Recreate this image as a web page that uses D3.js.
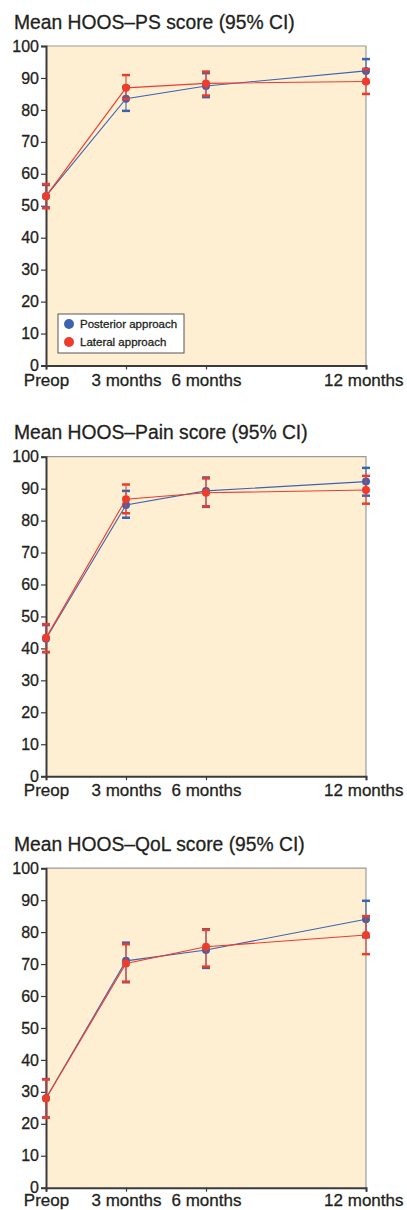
<!DOCTYPE html>
<html>
<head>
<meta charset="utf-8">
<script src="https://cdn.jsdelivr.net/npm/d3@7"></script>
<style>
  html, body { margin: 0; padding: 0; background: #ffffff; }
  svg { display: block; }
  text { font-family: "Liberation Sans", Arial, Helvetica, sans-serif; fill: #231f20; stroke: #231f20; stroke-width: 0.3px; }
</style>
</head>
<body>
<svg id="chart" width="407" height="1210"></svg>
<script>
// ---------- data ----------
const months = [0, 3, 6, 12];
const xTickLabels = ["Preop", "3 months", "6 months", "12 months"];
const yTicks = [0, 10, 20, 30, 40, 50, 60, 70, 80, 90, 100];
const seriesNames = ["Posterior approach", "Lateral approach"];
const panelTitles = ["Mean HOOS\u2013PS score (95% CI)", "Mean HOOS\u2013Pain score (95% CI)", "Mean HOOS\u2013QoL score (95% CI)"];

// HOOS-PS
const psPosteriorMean = [53.0, 83.5, 87.5, 92.2];
const psPosteriorLow  = [49.5, 79.7, 84.0, 88.6];
const psPosteriorHigh = [56.5, 87.3, 91.5, 95.9];
const psLateralMean   = [53.0, 86.9, 88.3, 88.9];
const psLateralLow    = [49.2, 83.4, 84.5, 85.0];
const psLateralHigh   = [56.8, 90.9, 92.0, 92.8];

// HOOS-Pain
const painPosteriorMean = [43.0, 84.9, 89.3, 92.2];
const painPosteriorLow  = [38.8, 80.9, 84.3, 87.8];
const painPosteriorHigh = [47.3, 89.3, 93.5, 96.5];
const painLateralMean   = [43.3, 86.7, 88.7, 89.6];
const painLateralLow    = [38.9, 82.3, 84.5, 85.3];
const painLateralHigh   = [47.6, 91.3, 93.2, 94.0];

// HOOS-QoL
const qolPosteriorMean = [28.0, 71.0, 74.4, 84.0];
const qolPosteriorLow  = [22.0, 64.3, 68.8, 78.4];
const qolPosteriorHigh = [34.0, 76.7, 80.9, 89.8];
const qolLateralMean   = [27.9, 70.2, 75.4, 79.1];
const qolLateralLow    = [21.9, 64.5, 69.2, 73.1];
const qolLateralHigh   = [33.9, 76.2, 80.7, 85.0];

const panels = [
  { title: panelTitles[0], series: [
      { mean: psPosteriorMean, low: psPosteriorLow, high: psPosteriorHigh },
      { mean: psLateralMean, low: psLateralLow, high: psLateralHigh } ], legend: true },
  { title: panelTitles[1], series: [
      { mean: painPosteriorMean, low: painPosteriorLow, high: painPosteriorHigh },
      { mean: painLateralMean, low: painLateralLow, high: painLateralHigh } ], legend: false },
  { title: panelTitles[2], series: [
      { mean: qolPosteriorMean, low: qolPosteriorLow, high: qolPosteriorHigh },
      { mean: qolLateralMean, low: qolLateralLow, high: qolLateralHigh } ], legend: false }
];

// ---------- layout ----------
const colors = ["#3d63b0", "#ee3b2b"];
const bgFill = "#feefd3";
const plotLeft = 46, plotRight = 366, plotH = 319.5;
const plotTops = [46, 456.7, 868.2];
const titleBaselines = [28.5, 439.3, 851];
const xLabelOffsets = [20, 20, 18];

const svg = d3.select("#chart");
const x = d3.scaleLinear().domain([0, 12]).range([plotLeft, plotRight]);

panels.forEach((p, pi) => {
  const top = plotTops[pi];
  const y = d3.scaleLinear().domain([0, 100]).range([top + plotH, top]);
  const g = svg.append("g");

  g.append("text").attr("x", 14).attr("y", titleBaselines[pi])
    .attr("font-size", 19.3).attr("stroke-width", 0.35)
    .text(p.title);

  // plot area
  g.append("rect").attr("x", plotLeft).attr("y", top)
    .attr("width", plotRight - plotLeft).attr("height", plotH)
    .attr("fill", bgFill);
  // top & right border
  g.append("path")
    .attr("d", `M${plotLeft},${top}H${plotRight}V${top + plotH}`)
    .attr("fill", "none").attr("stroke", "#9a9a9a").attr("stroke-width", 1.2);

  // y axis
  const yAxis = d3.axisLeft(y).tickValues(yTicks).tickSize(5).tickPadding(2);
  const ya = g.append("g").attr("transform", `translate(${plotLeft},0)`).call(yAxis);
  ya.select(".domain").attr("stroke", "#3a3a3a").attr("stroke-width", 2);
  ya.selectAll(".tick line").attr("stroke", "#3a3a3a").attr("stroke-width", 1.2);
  ya.selectAll(".tick text").attr("font-size", 16).attr("fill", "#231f20")
    .attr("font-family", "Liberation Sans, Arial, sans-serif");

  // x axis
  const xAxis = d3.axisBottom(x).tickValues(months)
    .tickFormat((d, i) => xTickLabels[i]).tickSize(4).tickPadding(3);
  const xa = g.append("g").attr("transform", `translate(0,${top + plotH})`).call(xAxis);
  xa.select(".domain").attr("stroke", "#3a3a3a").attr("stroke-width", 2);
  xa.selectAll(".tick line").attr("stroke", "#3a3a3a").attr("stroke-width", 1.2);
  xa.selectAll(".tick text").attr("font-size", 17).attr("fill", "#231f20")
    .attr("font-family", "Liberation Sans, Arial, sans-serif")
    .attr("dy", null).attr("y", xLabelOffsets[pi]);
  xa.selectAll(".tick text").filter((d, i) => i === 3).attr("text-anchor", "end").attr("dx", 37);

  const line = d3.line().x((d, i) => x(months[i])).y(d => y(d));

  p.series.forEach((s, si) => {
    const c = colors[si];
    const sg = g.append("g");
    sg.append("path").datum(s.mean).attr("d", line)
      .attr("fill", "none").attr("stroke", c).attr("stroke-width", 1.1);
    // error bars
    months.forEach((m, i) => {
      sg.append("line").attr("x1", x(m)).attr("x2", x(m))
        .attr("y1", y(s.low[i])).attr("y2", y(s.high[i]))
        .attr("stroke", c).attr("stroke-width", 1.3).attr("stroke-opacity", 0.8);
      [s.low[i], s.high[i]].forEach(v => {
        sg.append("line").attr("x1", x(m) - 4).attr("x2", x(m) + 4)
          .attr("y1", y(v)).attr("y2", y(v))
          .attr("stroke", c).attr("stroke-width", 2.5);
      });
    });
    sg.selectAll("circle").data(s.mean).join("circle")
      .attr("cx", (d, i) => x(months[i])).attr("cy", d => y(d))
      .attr("r", 4).attr("fill", c);
  });

  if (p.legend) {
    const lx = 58, ly = top + plotH - 51.5;
    const lg = g.append("g");
    lg.append("rect").attr("x", lx).attr("y", ly).attr("width", 126).attr("height", 39)
      .attr("fill", "#ffffff").attr("stroke", "#555555").attr("stroke-width", 1);
    seriesNames.forEach((n, i) => {
      lg.append("circle").attr("cx", lx + 11).attr("cy", ly + 10 + i * 18).attr("r", 5)
        .attr("fill", colors[i]);
      lg.append("text").attr("x", lx + 22).attr("y", ly + 10 + i * 18)
        .attr("dy", "0.35em").attr("font-size", 11.5).attr("stroke-width", 0.2).text(n);
    });
  }
});
</script>
</body>
</html>
